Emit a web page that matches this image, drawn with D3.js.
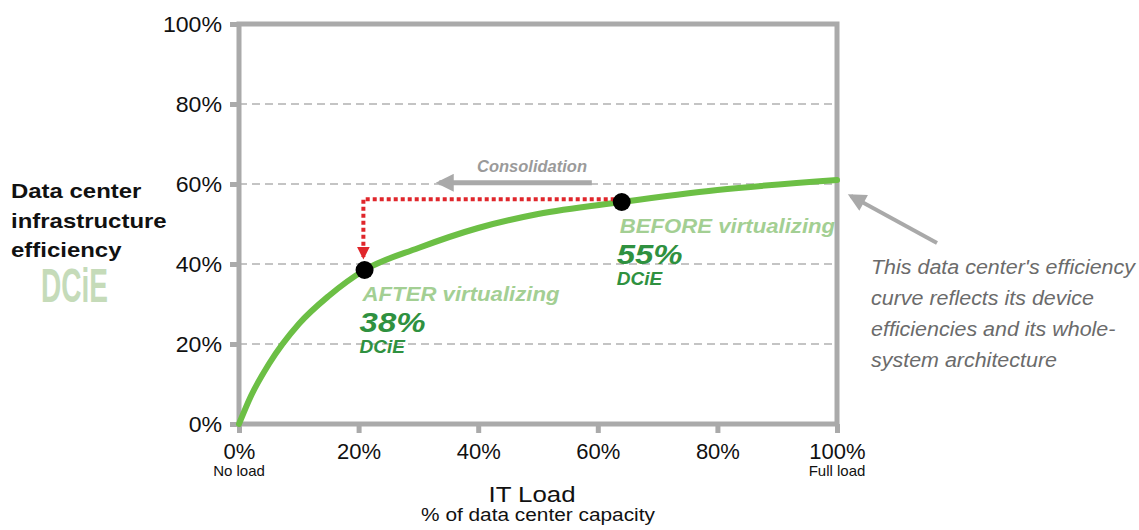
<!DOCTYPE html>
<html>
<head>
<meta charset="utf-8">
<script src="https://cdn.jsdelivr.net/npm/d3@7"></script>
<style>
  body { margin: 0; background: #fff; }
  svg { display: block; font-family: "Liberation Sans", Arial, sans-serif; }
</style>
</head>
<body>
<svg id="chart" width="1139" height="530"></svg>
<script>
// data
var xTicks = [0, 20, 40, 60, 80, 100];
var yTicks = [0, 20, 40, 60, 80, 100];
var gridLevels = [20, 40, 60, 80];
var curveX = [0, 2, 5, 10, 15, 21, 30, 40, 50, 64, 80, 100];
var curveY = [0, 7, 15, 25, 32, 38.5, 44, 49, 52.5, 55.5, 58.5, 61];
var pointNames = ["AFTER", "BEFORE"];
var pointX = [21, 64];
var pointY = [38.5, 55.5];
var pointPct = ["38%", "55%"];
var pointLabels = ["AFTER virtualizing", "BEFORE virtualizing"];
var consolidationLevel = 60.3;
var redLevel = 56.2;
var sideNote = ["This data center's efficiency", "curve reflects its device",
                "efficiencies and its whole-", "system architecture"];
var titleLines = ["Data center", "infrastructure", "efficiency"];

var margin = {top: 24, right: 302, bottom: 106, left: 239},
    width = 1139 - margin.left - margin.right,
    height = 530 - margin.top - margin.bottom;

var frameColor = "#aaaaaa",
    curveColor = "#6cbf45",
    darkGreen = "#2f9140",
    lightGreen = "#a3cf93";

var x = d3.scaleLinear().domain([0, 100]).range([0, width]);
var y = d3.scaleLinear().domain([0, 100]).range([height, 0]);

var svg = d3.select("#chart");
var defs = svg.append("defs");

// the source art has its lettering stretched sideways a little
function stretch(sel, f) {
  sel.each(function() {
    var w = this.getComputedTextLength();
    d3.select(this)
        .attr("textLength", w * f)
        .attr("lengthAdjust", "spacingAndGlyphs");
  });
}

function marker(id, color, w, h) {
  defs.append("marker")
      .attr("id", id)
      .attr("viewBox", "0 0 10 10")
      .attr("refX", 8).attr("refY", 5)
      .attr("markerUnits", "userSpaceOnUse")
      .attr("markerWidth", w).attr("markerHeight", h)
      .attr("orient", "auto")
    .append("path")
      .attr("d", "M0,0 L10,5 L0,10 Z")
      .attr("fill", color);
}
marker("grayHead", "#a9a9a9", 22, 18);
marker("redHead", "#e0262b", 13, 13);

var g = svg.append("g")
    .attr("transform", "translate(" + margin.left + "," + margin.top + ")");

// dashed grid
g.selectAll(".grid")
    .data(gridLevels)
  .enter().append("line")
    .attr("class", "grid")
    .attr("x1", 0).attr("x2", width)
    .attr("y1", function(d) { return y(d); })
    .attr("y2", function(d) { return y(d); })
    .attr("stroke", "#c4c4c4")
    .attr("stroke-width", 2)
    .attr("stroke-dasharray", "8,5");

// axes
var yAxis = d3.axisLeft(y).tickValues(yTicks).tickSize(9).tickPadding(8)
    .tickFormat(function(d) { return d + "%"; });
var xAxis = d3.axisBottom(x).tickValues(xTicks).tickSize(9).tickPadding(10)
    .tickFormat(function(d) { return d + "%"; });

var ya = g.append("g").call(yAxis);
var xa = g.append("g").attr("transform", "translate(0," + height + ")").call(xAxis);

[ya, xa].forEach(function(a) {
  a.select(".domain").remove();
  a.selectAll(".tick line").attr("stroke", frameColor).attr("stroke-width", 5);
  a.selectAll(".tick text")
      .attr("fill", "#111")
      .style("font-size", "22px")
      .style("font-family", "'Liberation Sans', Arial, sans-serif");
});
ya.selectAll(".tick text").attr("dy", "0.36em");
stretch(ya.selectAll(".tick text"), 1.05);

// frame
g.append("rect")
    .attr("x", 0).attr("y", 0)
    .attr("width", width).attr("height", height)
    .attr("fill", "none")
    .attr("stroke", frameColor)
    .attr("stroke-width", 5);

// efficiency curve
var line = d3.line()
    .x(function(d, i) { return x(curveX[i]); })
    .y(function(d) { return y(d); })
    .curve(d3.curveMonotoneX);

g.append("path")
    .datum(curveY)
    .attr("d", line)
    .attr("fill", "none")
    .attr("stroke", curveColor)
    .attr("stroke-width", 6)
    .attr("stroke-linecap", "round");

// consolidation arrow
g.append("line")
    .attr("x1", x(59)).attr("x2", x(33.5))
    .attr("y1", y(consolidationLevel)).attr("y2", y(consolidationLevel))
    .attr("stroke", "#a9a9a9")
    .attr("stroke-width", 5)
    .attr("marker-end", "url(#grayHead)");

g.append("text")
    .attr("x", x(58.2)).attr("y", y(consolidationLevel) - 11)
    .attr("text-anchor", "end")
    .attr("fill", "#9a9a9a")
    .style("font-size", "16.5px")
    .style("font-weight", "bold")
    .style("font-style", "italic")
    .text("Consolidation");

// red dotted move
g.append("path")
    .attr("d", "M" + x(pointX[1]) + "," + y(redLevel) +
               "H" + x(pointX[0] - 0.2) +
               "V" + (y(pointY[0]) - 13))
    .attr("fill", "none")
    .attr("stroke", "#e0262b")
    .attr("stroke-width", 4)
    .attr("stroke-dasharray", "4,3")
    .attr("marker-end", "url(#redHead)");

// points
g.selectAll(".pt")
    .data(pointX)
  .enter().append("circle")
    .attr("class", "pt")
    .attr("cx", function(d) { return x(d); })
    .attr("cy", function(d, i) { return y(pointY[i]); })
    .attr("r", 9)
    .attr("fill", "#000");

// point labels
var lab = g.selectAll(".lab")
    .data(pointX)
  .enter().append("g")
    .attr("class", "lab")
    .attr("transform", function(d, i) {
      return "translate(" + (x(d) - 2) + "," + y(pointY[i]) + ")";
    });

var labName = lab.append("text")
    .attr("x", 0).attr("y", 31)
    .attr("fill", lightGreen)
    .style("font-size", "21px")
    .style("font-weight", "bold")
    .style("font-style", "italic")
    .text(function(d, i) { return pointLabels[i]; });
stretch(labName, 1.055);

var labPct = lab.append("text")
    .attr("x", -3).attr("y", 62)
    .attr("fill", darkGreen)
    .style("font-size", "27px")
    .style("font-weight", "bold")
    .style("font-style", "italic")
    .text(function(d, i) { return pointPct[i]; });
stretch(labPct, 1.22);

lab.append("text")
    .attr("x", -3).attr("y", 83)
    .attr("fill", darkGreen)
    .style("font-size", "19px")
    .style("font-weight", "bold")
    .style("font-style", "italic")
    .text("DCiE");

// x axis sub labels
g.append("text")
    .attr("x", x(0)).attr("y", height + 52)
    .attr("text-anchor", "middle")
    .attr("fill", "#111")
    .style("font-size", "15px")
    .text("No load");
g.append("text")
    .attr("x", x(100)).attr("y", height + 52)
    .attr("text-anchor", "middle")
    .attr("fill", "#111")
    .style("font-size", "15px")
    .text("Full load");

var itLoad = g.append("text")
    .attr("x", width / 2 - 6).attr("y", height + 78)
    .attr("text-anchor", "middle")
    .attr("fill", "#111")
    .style("font-size", "21.5px")
    .style("font-weight", "500")
    .text("IT Load");
stretch(itLoad, 1.2);

var capLabel = g.append("text")
    .attr("x", width / 2).attr("y", height + 97)
    .attr("text-anchor", "middle")
    .attr("fill", "#111")
    .style("font-size", "17.5px")
    .text("% of data center capacity");
stretch(capLabel, 1.19);

// y title
var ttl = svg.selectAll(".ttl")
    .data(titleLines)
  .enter().append("text")
    .attr("class", "ttl")
    .attr("x", 11)
    .attr("y", function(d, i) { return 198 + i * 29.5; })
    .attr("fill", "#111")
    .style("font-size", "21px")
    .style("font-weight", "bold")
    .text(function(d) { return d; });
stretch(ttl, 1.14);

var dcie = svg.append("text")
    .attr("x", 41).attr("y", 302)
    .attr("fill", "#c5dbb9")
    .style("font-family", "'Liberation Sans Narrow', 'Liberation Sans', sans-serif")
    .style("font-size", "49px")
    .style("font-weight", "bold")
    .text("DCiE");
dcie.attr("textLength", 67).attr("lengthAdjust", "spacingAndGlyphs");

// side note with arrow
svg.append("line")
    .attr("x1", 937).attr("y1", 243)
    .attr("x2", 851).attr("y2", 196)
    .attr("stroke", "#a9a9a9")
    .attr("stroke-width", 4)
    .attr("marker-end", "url(#grayHead)");

var note = svg.selectAll(".note")
    .data(sideNote)
  .enter().append("text")
    .attr("class", "note")
    .attr("x", 871)
    .attr("y", function(d, i) { return 274 + i * 31; })
    .attr("fill", "#6b6b6b")
    .style("font-size", "19.5px")
    .style("font-style", "italic")
    .text(function(d) { return d; });
stretch(note, 1.1);
</script>
</body>
</html>
